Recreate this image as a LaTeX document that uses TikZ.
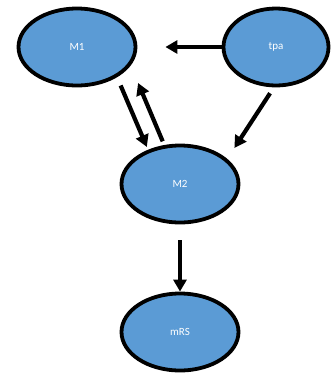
\documentclass[tikz,border=0pt]{standalone}
\usepackage{fontspec}
\setmainfont{Carlito}
\usepackage{tikz}
\usetikzlibrary{arrows.meta,positioning,shapes.geometric}
\definecolor{nodeblue}{HTML}{5B9BD5}

\begin{document}
\begin{tikzpicture}[->,>={Triangle[width=13pt,length=12pt]},line width=4.2pt,on grid,
	var/.style={draw=black,line width=3.8pt,ellipse,fill=nodeblue,text=white,inner sep=0pt,minimum width=117pt,minimum height=77pt,font=\fontsize{11}{12}\selectfont}]
	\useasboundingbox (0,0) rectangle (331pt,-373pt);
	\node[var]		(M1)	at (77pt,-47pt)						{M1};
	\node[var,minimum width=105pt]	(tpa)	[right=199pt of M1]			{tpa};
	\node[var]		(M2)	[below right=137pt and 103pt of M1]	{M2};
	\node[var]		(mRS)	[below=148pt of M2]					{mRS};

	\path
		(tpa.west)	edge	[shorten >=28pt]				(M1.east)
		(M1.-37)	edge	[shorten <=9pt,shorten >=3pt]	(M2.133)
		(M2.112)	edge	[shorten <=4pt,shorten >=19pt]	(M1.-19)
		(tpa.267)	edge	[shorten <=7pt,shorten >=13pt]	(M2.28)
		(M2.south)	edge	[shorten <=16pt]				(mRS.north)
	;
\end{tikzpicture}
\end{document}
